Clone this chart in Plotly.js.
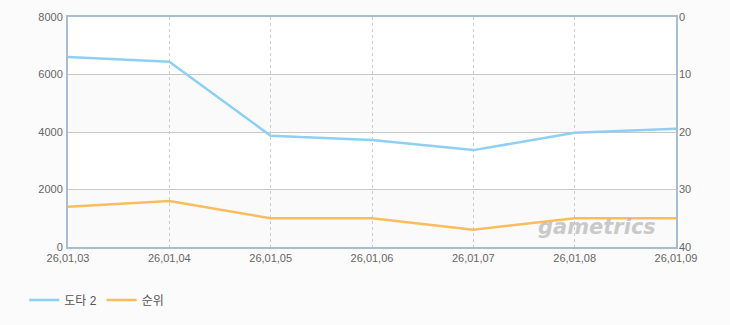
<!DOCTYPE html>
<html><head><meta charset="utf-8">
<script src="https://cdn.plot.ly/plotly-3.0.1.min.js"></script>
<style>html,body{margin:0;padding:0;background:#fbfbfb;}</style>
</head><body>
<div id="chart" style="width:730px;height:325px;"></div>
<script>
const categories = ["26,01,03","26,01,04","26,01,05","26,01,06","26,01,07","26,01,08","26,01,09"];
const dotaValues = [6610, 6440, 3870, 3720, 3370, 3970, 4110];
const rankValues = [33, 32, 35, 35, 37, 35, 35];
const seriesNames = ["도타 2", "순위"];
const leftTicks = [0, 2000, 4000, 6000, 8000];
const rightTicks = [0, 10, 20, 30, 40];

const fontFam = "Liberation Sans, Arial, Noto Sans CJK KR, sans-serif";
const traces = [
  {x: categories, y: dotaValues, name: seriesNames[0], type: "scatter", mode: "lines",
   line: {color: "#8ed0f2", width: 2.5}, yaxis: "y"},
  {x: categories, y: rankValues, name: seriesNames[1], type: "scatter", mode: "lines",
   line: {color: "#f9bd5e", width: 2.5}, yaxis: "y2"}
];
const bands = [[4000, 6000], [0, 2000]].map(b => ({
  type: "rect", xref: "paper", yref: "y", x0: 0, x1: 1, y0: b[0], y1: b[1],
  fillcolor: "#fafafa", line: {width: 0}, layer: "below"
}));
const layout = {
  width: 730, height: 325,
  margin: {l: 68, r: 54, t: 17, b: 77},
  paper_bgcolor: "#fbfbfb", plot_bgcolor: "#ffffff",
  font: {family: fontFam, size: 11, color: "#666"},
  showlegend: true,
  legend: {orientation: "h", x: -0.072, y: -0.225, yanchor: "middle", xanchor: "left",
           font: {size: 12, color: "#555", family: fontFam}, bgcolor: "rgba(0,0,0,0)",
           itemwidth: 30, tracegroupgap: 0},
  xaxis: {type: "category", range: [0, 6], showgrid: true, gridcolor: "#cccccc", griddash: "3px,3px",
          gridwidth: 1, showline: true, linecolor: "#a9bdd2", linewidth: 2, mirror: true,
          ticks: "", tickfont: {size: 11, color: "#666"}, zeroline: false, fixedrange: true},
  yaxis: {range: [0, 8000], tickvals: leftTicks, showgrid: true, gridcolor: "#c8c8c8", gridwidth: 1,
          showline: true, linecolor: "#a9bdd2", linewidth: 2, mirror: true, ticks: "",
          zeroline: false, tickfont: {size: 11, color: "#666"}, ticklabelstandoff: 1},
  yaxis2: {range: [40, 0], tickvals: rightTicks, overlaying: "y", side: "right", showgrid: false,
           showline: false, ticks: "", zeroline: false, tickfont: {size: 11, color: "#666"},
           ticklabelstandoff: 2},
  shapes: bands,
  annotations: [{text: "<b><i>gametrics</i></b>", xref: "paper", yref: "paper", x: 0.97, y: 0.085,
                 xanchor: "right", yanchor: "middle", showarrow: false,
                 font: {size: 21, color: "rgba(180,180,180,0.7)", family: "DejaVu Sans, sans-serif"}}]
};
Plotly.newPlot("chart", traces, layout, {displayModeBar: false, staticPlot: true});
</script>
</body></html>
